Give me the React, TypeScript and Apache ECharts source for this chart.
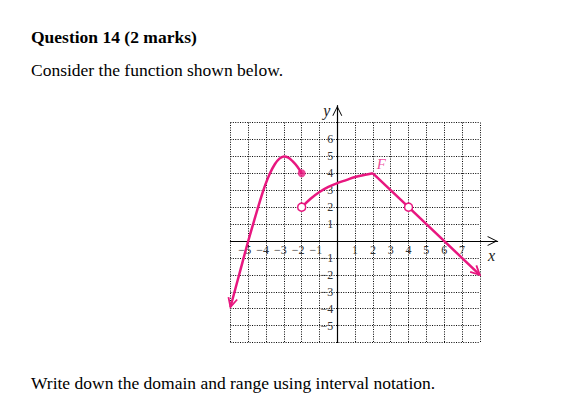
import React, { useEffect, useRef } from 'react';
import * as echarts from 'echarts';

// ---- data ----
const xTicks = [-5, -4, -3, -2, -1, 1, 2, 3, 4, 5, 6, 7];
const yTicks = [-5, -4, -3, -2, -1, 1, 2, 3, 4, 5, 6];
const gridRangeX = [-6, 8];
const gridRangeY = [-6, 7];
const axisRangeX = [-6, 9];
const axisRangeY = [-6, 8];

const leftCurve = [
  [-6, -3.9], [-5.5, -1.95], [-5, 0], [-4.6, 1.45], [-4.3, 2.5], [-4.05, 3.3],
  [-3.78, 4], [-3.5, 4.55], [-3.25, 4.87], [-3, 5], [-2.75, 4.93], [-2.5, 4.7],
  [-2.25, 4.4], [-2, 4],
];
const middleCurve = [
  [-2, 2], [-1.5, 2.5], [-1, 2.9], [-0.5, 3.2], [0, 3.42], [0.5, 3.6],
  [1, 3.78], [1.5, 3.9], [2, 4],
];
const rightLine = [[2, 4], [4, 2], [8, -2]];
const closedPoints = [[-2, 4]];
const openPoints = [[-2, 2], [4, 2]];
// arrow tip x, tip y, direction-from x, direction-from y
const arrowHeads = [
  [-6, -3.9, -5.6, -2.35],
  [8, -2, 7, -1],
];
const functionLabel = [[2.47, 4.53]];

const heading = 'Question 14 (2 marks)';
const intro = 'Consider the function shown below.';
const task = 'Write down the domain and range using interval notation.';

// ---- styling ----
const PINK = '#e8177f';
const SERIF = '"Liberation Serif", "Times New Roman", serif';
const SX = 17.81;
const SY = 16.92;
const OX = 337.3;
const OY = 241;
const chevron = 'path://M0,0 L5,10 L4,10 L0,2 L-4,10 L-5,10 Z M0,-10 L0,-10';

const minus = (v: number) => (v < 0 ? '\u2212' + Math.abs(v) : String(v));

export default function App() {
  const ref = useRef<HTMLDivElement>(null);
  useEffect(() => {
    if (!ref.current) return;
    const chart = echarts.init(ref.current, undefined, { renderer: 'svg' });
    const labelFont = { fontFamily: SERIF, fontSize: 12, color: '#333' };
    const gridLine = { show: true, showMinLine: true, showMaxLine: true, lineStyle: { color: '#000', width: 1, type: [1, 1.4] } };
    const option: any = {
      animation: false,
      backgroundColor: '#fff',
      grid: [
        {
          left: OX + gridRangeX[0] * SX,
          top: OY - gridRangeY[1] * SY,
          width: (gridRangeX[1] - gridRangeX[0]) * SX,
          height: (gridRangeY[1] - gridRangeY[0]) * SY,
          containLabel: false,
          outerBoundsMode: 'none',
        },
        {
          left: OX + axisRangeX[0] * SX,
          top: OY - axisRangeY[1] * SY,
          width: (axisRangeX[1] - axisRangeX[0]) * SX,
          height: (axisRangeY[1] - axisRangeY[0]) * SY,
          containLabel: false,
          outerBoundsMode: 'none',
        },
      ],
      xAxis: [
        {
          type: 'value', gridIndex: 0, min: gridRangeX[0], max: gridRangeX[1], interval: 1,
          axisLine: { show: false }, axisTick: { show: false }, axisLabel: { show: false },
          splitLine: gridLine,
        },
        {
          type: 'value', gridIndex: 1, min: axisRangeX[0], max: axisRangeX[1], interval: 1,
          position: 'bottom', offset: axisRangeY[0] * SY,
          axisLine: { show: true, onZero: false, lineStyle: { color: '#000', width: 1.2 }, symbol: ['none', chevron], symbolSize: [10, 20] },
          axisTick: { show: false },
          splitLine: { show: false },
          axisLabel: {
            show: true, margin: 3, ...labelFont,
            formatter: (v: number) => (xTicks.includes(v) ? (v < 0 ? `{n|${minus(v)}}` : `{p|${v}}`) : ''),
            rich: {
              n: { ...labelFont, padding: [0, 7, 0, 0] },
              p: { ...labelFont },
            },
          },
          name: 'x', nameLocation: 'end', nameGap: -6,
          nameTextStyle: { fontFamily: SERIF, fontStyle: 'italic', fontSize: 16, color: '#222', align: 'center', verticalAlign: 'top', padding: [6, 0, 0, 0] },
        },
      ],
      yAxis: [
        {
          type: 'value', gridIndex: 0, min: gridRangeY[0], max: gridRangeY[1], interval: 1,
          axisLine: { show: false }, axisTick: { show: false }, axisLabel: { show: false },
          splitLine: gridLine,
        },
        {
          type: 'value', gridIndex: 1, min: axisRangeY[0], max: axisRangeY[1], interval: 1,
          position: 'left', offset: axisRangeX[0] * SX,
          axisLine: { show: true, onZero: false, lineStyle: { color: '#000', width: 1.2 }, symbol: ['none', chevron], symbolSize: [10, 20] },
          axisTick: { show: false },
          splitLine: { show: false },
          axisLabel: {
            show: true, margin: 4, ...labelFont,
            formatter: (v: number) => (yTicks.includes(v) ? minus(v) : ''),
          },
          name: 'y', nameLocation: 'end', nameGap: -5,
          nameTextStyle: { fontFamily: SERIF, fontStyle: 'italic', fontSize: 16, color: '#222', align: 'right', verticalAlign: 'middle', padding: [0, 7, 0, 0] },
        },
      ],
      series: [
        {
          type: 'line', xAxisIndex: 1, yAxisIndex: 1, data: leftCurve, smooth: 0.4,
          symbol: 'none', clip: false, lineStyle: { color: PINK, width: 2.5 }, z: 3,
        },
        {
          type: 'line', xAxisIndex: 1, yAxisIndex: 1, data: middleCurve, smooth: 0.4,
          symbol: 'none', clip: false, lineStyle: { color: PINK, width: 2.5 }, z: 3,
        },
        {
          type: 'line', xAxisIndex: 1, yAxisIndex: 1, data: rightLine, smooth: false,
          symbol: 'none', clip: false, lineStyle: { color: PINK, width: 2.5 }, z: 3,
        },
        {
          type: 'custom', xAxisIndex: 1, yAxisIndex: 1, clip: false, z: 4,
          data: arrowHeads,
          renderItem: (params: any, api: any) => {
            const tip = api.coord([api.value(0), api.value(1)]);
            const from = api.coord([api.value(2), api.value(3)]);
            const dx = tip[0] - from[0];
            const dy = tip[1] - from[1];
            const len = Math.hypot(dx, dy) || 1;
            const ux = dx / len;
            const uy = dy / len;
            const L = 9;
            const W = 4.5;
            const bx = tip[0] - ux * L;
            const by = tip[1] - uy * L;
            return {
              type: 'polyline',
              shape: { points: [[bx - uy * W, by + ux * W], tip, [bx + uy * W, by - ux * W]] },
              style: { stroke: PINK, lineWidth: 1.8, fill: 'none' },
            };
          },
        },
        {
          type: 'scatter', xAxisIndex: 1, yAxisIndex: 1, clip: false, z: 5,
          symbol: 'circle', symbolSize: 8, itemStyle: { color: PINK },
          data: closedPoints,
        },
        {
          type: 'scatter', xAxisIndex: 1, yAxisIndex: 1, clip: false, z: 5,
          symbol: 'circle', symbolSize: 8,
          itemStyle: { color: '#fff', borderColor: PINK, borderWidth: 1.5, opacity: 1 },
          data: openPoints,
        },
        {
          type: 'scatter', xAxisIndex: 1, yAxisIndex: 1, clip: false, z: 5,
          symbol: 'circle', symbolSize: 1, itemStyle: { color: 'rgba(0,0,0,0)' },
          label: {
            show: true, position: 'inside', formatter: 'F',
            fontFamily: SERIF, fontStyle: 'italic', fontSize: 15, color: PINK,
          },
          data: functionLabel,
        },
      ],
      graphic: [
        { type: 'text', x: 31, y: 36.6, style: { text: heading, font: `bold 17.5px ${SERIF}`, fill: '#000', verticalAlign: 'middle' } },
        { type: 'text', x: 31, y: 70.1, style: { text: intro, font: `17.5px ${SERIF}`, fill: '#000', verticalAlign: 'middle' } },
        { type: 'text', x: 31, y: 383.4, style: { text: task, font: `17.5px ${SERIF}`, fill: '#000', verticalAlign: 'middle' } },
      ],
    };
    chart.setOption(option);
    return () => chart.dispose();
  }, []);
  return <div ref={ref} style={{ position: 'fixed', left: 0, top: 0, width: 564, height: 410 }} />;
}
